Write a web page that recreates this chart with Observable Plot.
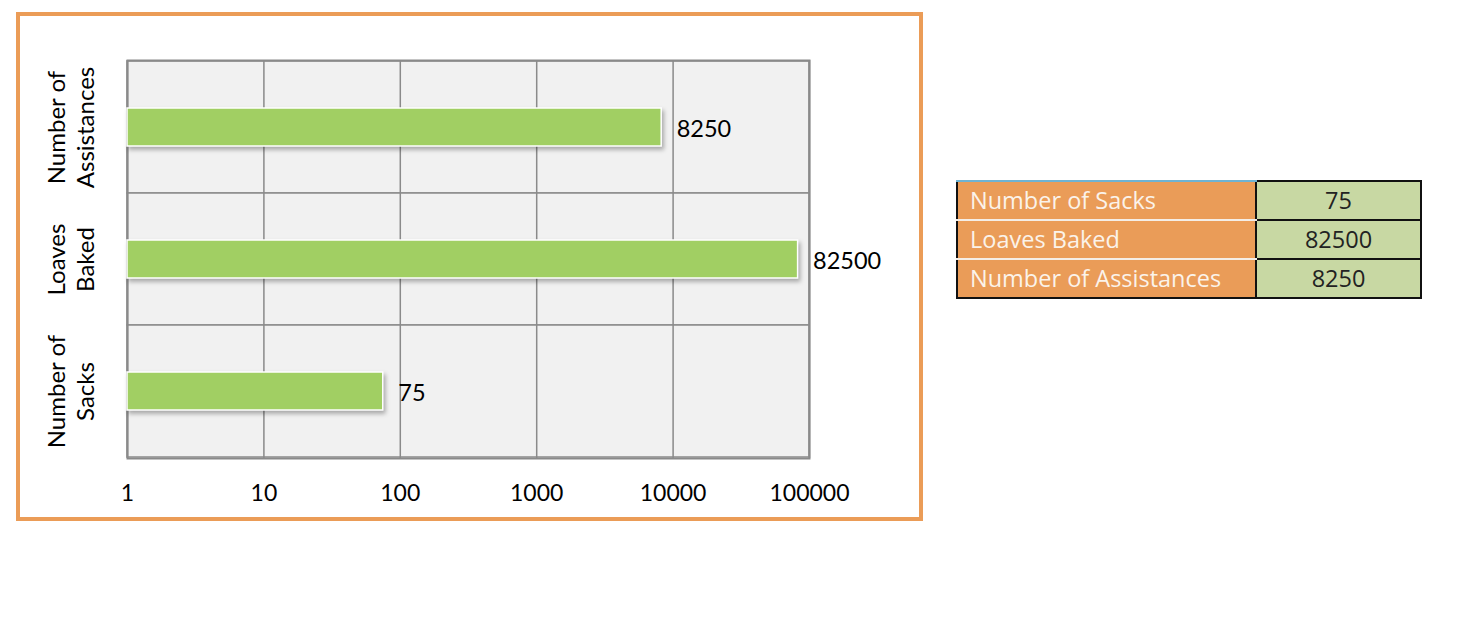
<!DOCTYPE html>
<html>
<head>
<meta charset="utf-8">
<script src="https://cdn.jsdelivr.net/npm/d3@7"></script>
<script src="https://cdn.jsdelivr.net/npm/@observablehq/plot@0.6"></script>
<style>
  html, body { margin: 0; padding: 0; background: #fff; }
  #page { position: relative; width: 1476px; height: 618px; overflow: hidden; font-family: Lato, "Open Sans", sans-serif; }
  #chart { position: absolute; left: 0; top: 0; }
  #border { position: absolute; left: 16px; top: 12px; width: 907px; height: 509px; box-sizing: border-box; border: 4.5px solid #EB9C57; pointer-events: none; }
  #tbl { position: absolute; left: 956px; top: 180px; border-collapse: collapse; font-family: "Open Sans", Lato, sans-serif; font-size: 23.5px; table-layout: fixed; }
  #tbl td { height: 37px; padding: 0; line-height: 37px; white-space: nowrap; overflow: hidden; }
  #tbl td.name { width: 285px; padding-left: 12px; background: #EA9C58; color: #FBF3EA; border-bottom: 2px solid #F4EDE6; border-left: 2px solid #111; }
  #tbl tr:first-child td.name { border-top: 2px solid #6FB3D2; }
  #tbl tr:last-child td.name { border-bottom: 2px solid #111; }
  #tbl td.val { width: 163px; text-align: center; background: #C8D8A3; color: #222; border: 2px solid #111; }
</style>
</head>
<body>
<div id="page">
  <div id="chart"></div>
  <div id="border"></div>
  <table id="tbl"></table>
</div>
<script>
// Data
const categories = ["Number of Sacks", "Loaves Baked", "Number of Assistances"];
const values = [75, 82500, 8250];
const axisLabels = ["Number of\nSacks", "Loaves\nBaked", "Number of\nAssistances"];
const xTicks = [1, 10, 100, 1000, 10000, 100000];

const rows = categories.map((c, i) => ({category: c, value: values[i], label: axisLabels[i]}));
const yOrder = categories.slice().reverse();

const chart = Plot.plot({
  width: 930,
  height: 530,
  marginLeft: 127,
  marginRight: 121,
  marginTop: 60,
  marginBottom: 72,
  style: {fontFamily: "Lato, 'Open Sans', sans-serif", fontSize: "23px", background: "transparent", color: "#000"},
  x: {type: "log", domain: [1, 100000], ticks: xTicks, tickFormat: d => String(d)},
  y: {domain: yOrder, padding: 0, axis: null},
  marks: [
    Plot.barX(yOrder, {y: d => d, x1: 1, x2: 100000, fill: "#F1F1F1", stroke: "#8A8A8A", strokeWidth: 1.5}),
    Plot.gridX(xTicks, {stroke: "#8A8A8A", strokeOpacity: 1, strokeWidth: 1.5}),
    Plot.frame({stroke: "#8A8A8A", strokeWidth: 2}),
    Plot.barX(rows, {y: "category", x1: 1, x2: "value", fill: "#A1CF63", stroke: "#FFFFFF", strokeWidth: 1.5, insetTop: 47, insetBottom: 47, imageFilter: "drop-shadow(2px 3px 2px rgba(0,0,0,0.3))"}),
    Plot.text(rows, {y: "category", x: "value", text: d => String(d.value), textAnchor: "start", dx: 15, dy: 2, fontSize: 23.5, fill: "#000"}),
    Plot.text(rows, {y: "category", frameAnchor: "left", text: "label", rotate: -90, dx: -57.5, textAnchor: "middle", lineAnchor: "middle", lineHeight: 1.2, fontSize: 24, fill: "#000"}),
    Plot.axisX({ticks: xTicks, tickFormat: d => String(d), tickSize: 0, tickPadding: 26, fontSize: 23, fill: "#000", label: null, anchor: "bottom"})
  ]
});
document.getElementById("chart").appendChild(chart);

// Data table
const tbl = document.getElementById("tbl");
rows.forEach(r => {
  const tr = document.createElement("tr");
  const a = document.createElement("td"); a.className = "name"; a.textContent = r.category;
  const b = document.createElement("td"); b.className = "val"; b.textContent = String(r.value);
  tr.appendChild(a); tr.appendChild(b); tbl.appendChild(tr);
});
</script>
</body>
</html>
